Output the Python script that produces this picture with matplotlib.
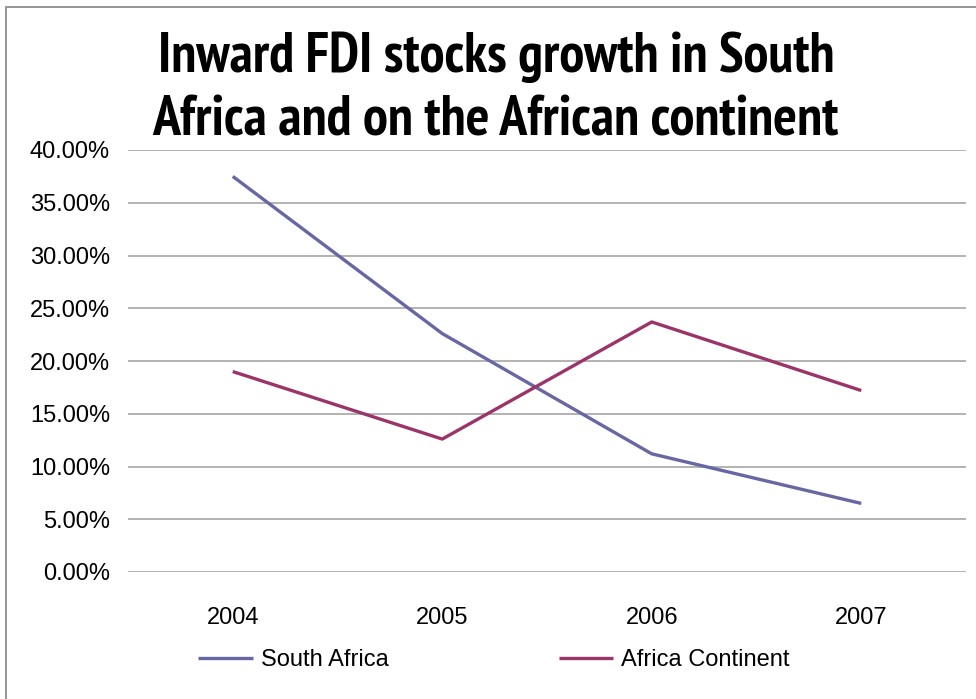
import matplotlib
matplotlib.use("Agg")
import matplotlib.pyplot as plt
from matplotlib import font_manager
from matplotlib.patches import Rectangle

years = ["2004", "2005", "2006", "2007"]
south_africa = [37.5, 22.6, 11.2, 6.5]
africa_continent = [19.0, 12.6, 23.7, 17.2]
y_ticks = [0, 5, 10, 15, 20, 25, 30, 35, 40]
title_lines = ["Inward FDI stocks growth in South", "Africa and on the African continent"]

# condensed bold face for the title, if one is around
bold_fonts = {f.name for f in font_manager.fontManager.ttflist if f.weight in (700, "bold")}
narrow = "Liberation Sans"
for cand in ["Liberation Sans Narrow", "Arial Narrow", "Archivo Narrow", "PT Sans Narrow",
             "Roboto Condensed", "Fira Sans Condensed", "IBM Plex Sans Condensed",
             "Pragati Narrow", "Open Sans Condensed"]:
    if cand in bold_fonts:
        narrow = cand
        break

plt.rcParams["font.family"] = ["Liberation Sans", "DejaVu Sans"]

fig = plt.figure(figsize=(9.76, 6.99), dpi=100)
ax = fig.add_axes([128 / 976, 1 - 572 / 699, 838 / 976, 422 / 699])

x = range(len(years))
ax.plot(x, south_africa, color="#6767A3", lw=2.4, label="South Africa", solid_capstyle="butt")
ax.plot(x, africa_continent, color="#9B3468", lw=2.4, label="Africa Continent", solid_capstyle="butt")

ax.set_xlim(-0.5, 3.5)
ax.set_ylim(0, 40)
ax.set_xticks(list(x))
ax.set_xticklabels(years)
ax.set_yticks(y_ticks)
ax.set_yticklabels([f"{v:.2f}%" for v in y_ticks])
ax.tick_params(axis="both", length=0, labelsize=17)
ax.tick_params(axis="y", pad=13)
ax.tick_params(axis="x", pad=25)
ax.grid(axis="y", color="#A6A6A6", lw=1.2)
ax.set_axisbelow(True)
for s in ax.spines.values():
    s.set_visible(False)

ax.legend(loc="center", bbox_to_anchor=(494 / 976, 1 - 660 / 699),
          bbox_transform=fig.transFigure, ncol=2, frameon=False,
          fontsize=17, handlelength=2.3, handletextpad=0.35, columnspacing=7.2)

t1 = fig.text(496 / 976, 1 - 72 / 699, title_lines[0], ha="center", va="baseline",
              fontsize=37, fontweight="bold", family=[narrow, "DejaVu Sans"])
t2 = fig.text(495 / 976, 1 - 135 / 699, title_lines[1], ha="center", va="baseline",
              fontsize=37, fontweight="bold", family=[narrow, "DejaVu Sans"])

# shrink/grow title so the first line spans ~678 px like the reference
renderer = fig.canvas.get_renderer()
w = t1.get_window_extent(renderer).width
size = min(44, 37 * 678 / w)
t1.set_fontsize(size)
t2.set_fontsize(size)

fig.patches.append(Rectangle((6 / 976, -0.05), 1.1, 0.05 + 1 - 7 / 699,
                             transform=fig.transFigure, fill=False,
                             edgecolor="#8C8C8C", lw=1.3))

fig.savefig("out.png", dpi=100)
